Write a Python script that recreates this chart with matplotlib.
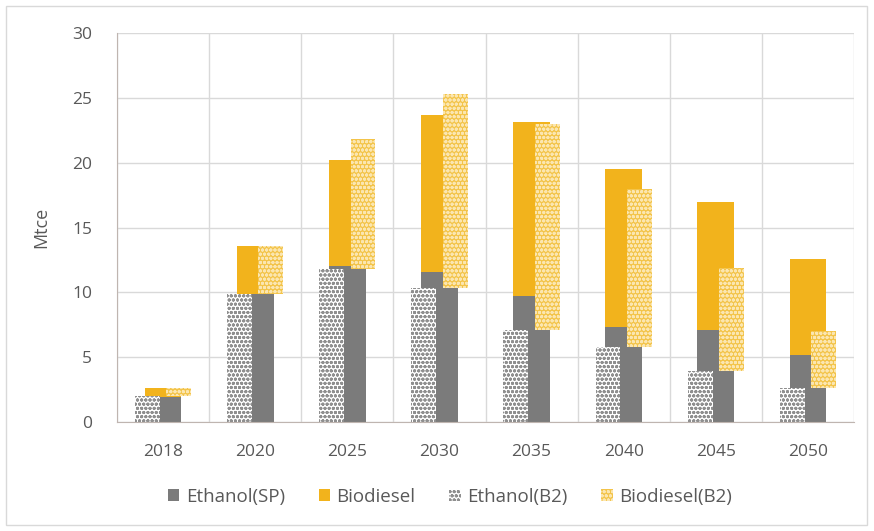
import matplotlib
matplotlib.use("Agg")
import matplotlib.pyplot as plt
import numpy as np
from matplotlib.patches import Rectangle

plt.rcParams['font.family'] = ['Open Sans', 'DejaVu Sans']
plt.rcParams['hatch.linewidth'] = 1.0

years = ['2018', '2020', '2025', '2030', '2035', '2040', '2045', '2050']
ethanol_sp = [1.9, 9.9, 12.0, 11.6, 9.7, 7.35, 7.1, 5.2]
biodiesel_sp = [0.7, 3.7, 8.2, 12.1, 13.4, 12.2, 9.9, 7.35]
ethanol_b2 = [2.0, 9.9, 11.8, 10.3, 7.1, 5.8, 3.9, 2.6]
biodiesel_b2 = [0.6, 3.7, 10.0, 15.0, 15.9, 12.2, 8.0, 4.4]

GREY = '#7b7b7b'
ORANGE = '#f2b31c'
TEXT = '#595959'
GRID = '#d9d9d9'

fig = plt.figure(figsize=(8.74, 5.31), dpi=100)
fig.patches.append(Rectangle((6/874, 6/531), 861/874, 519/531, transform=fig.transFigure,
                             fill=False, edgecolor=GRID, linewidth=1.0))
ax = fig.add_axes([117/874, 1 - 422/531, 737/874, 389/531])

x = np.arange(len(years))
w_sp = 0.40
w_b2 = 0.27
off = 0.17

ax.bar(x, ethanol_sp, w_sp, color=GREY, zorder=2, label='Ethanol(SP)')
ax.bar(x, biodiesel_sp, w_sp, bottom=ethanol_sp, color=ORANGE, zorder=2, label='Biodiesel')
ax.bar(x - off, ethanol_b2, w_b2, facecolor='white', edgecolor='#8f8f8f', hatch='oooo',
       linewidth=0, zorder=3, label='Ethanol(B2)')
ax.bar(x + off, biodiesel_b2, w_b2, bottom=ethanol_b2, facecolor='#f3c44a', edgecolor='#fbe6b0',
       hatch='oooo', linewidth=0, zorder=3, label='Biodiesel(B2)')

ax.set_xlim(-0.5, len(years) - 0.5)
ax.set_ylim(0, 30)
ax.set_yticks(range(0, 31, 5))
ax.set_xticks(x)
ax.set_xticklabels(years)
ax.set_xticks(np.arange(-0.5, len(years), 1), minor=True)
ax.grid(axis='y', color=GRID, linewidth=1.0, zorder=0)
ax.grid(axis='x', which='minor', color=GRID, linewidth=1.0, zorder=0)
ax.tick_params(axis='both', which='both', length=0, colors=TEXT, labelsize=12.5)
ax.tick_params(axis='x', pad=16)
ax.tick_params(axis='y', pad=18)
for s in ['top', 'right']:
    ax.spines[s].set_visible(False)
ax.spines['left'].set_color('#bfb5b0')
ax.spines['bottom'].set_color('#bfb5b0')
ax.set_ylabel('Mtce', color=TEXT, fontsize=13, labelpad=16)

handles, labels = ax.get_legend_handles_labels()
leg = fig.legend(handles, labels, loc='center', bbox_to_anchor=(450/874, 1 - 497/531), ncol=4,
                 frameon=False, fontsize=13.5, handlelength=0.6, handleheight=0.6,
                 handletextpad=0.35, columnspacing=1.8, labelcolor=TEXT)

fig.savefig('out.png', dpi=100)
